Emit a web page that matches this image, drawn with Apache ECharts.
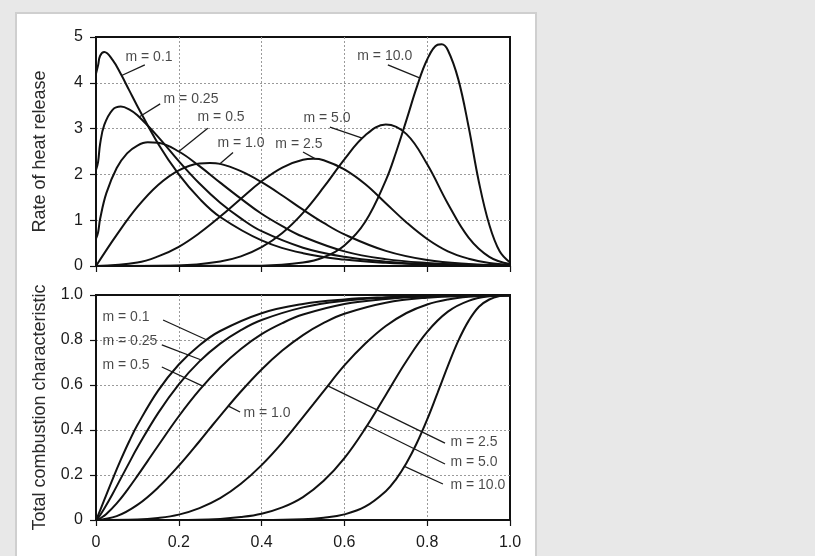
<!DOCTYPE html>
<html>
<head>
<meta charset="utf-8">
<script src="https://cdn.jsdelivr.net/npm/echarts@6/dist/echarts.min.js"></script>
<style>
html,body{margin:0;padding:0;background:#e8e8e8;}
#chart{width:815px;height:556px;}
</style>
</head>
<body>
<div id="chart"></div>
<script>
// ---- data ----
const xTicks = [0, 0.2, 0.4, 0.6, 0.8, 1.0];
const mLabels = ['m = 0.1', 'm = 0.25', 'm = 0.5', 'm = 1.0', 'm = 2.5', 'm = 5.0', 'm = 10.0'];

const m01X    = [0, 0.005, 0.01, 0.02, 0.04, 0.06, 0.08, 0.1, 0.15, 0.2, 0.25, 0.3, 0.4, 0.5, 0.6, 0.7, 0.8, 0.9, 1.0];
const m01Rate = [4.2, 4.38, 4.59, 4.67, 4.50, 4.19, 3.84, 3.49, 2.67, 2.00, 1.47, 1.07, 0.56, 0.28, 0.14, 0.07, 0.034, 0.016, 0.008];
const m01Burn = [0, 0.020, 0.043, 0.089, 0.181, 0.268, 0.349, 0.422, 0.575, 0.691, 0.777, 0.840, 0.919, 0.960, 0.980, 0.990, 0.996, 0.998, 0.999];

const m025X    = [0, 0.005, 0.01, 0.02, 0.04, 0.06, 0.08, 0.1, 0.15, 0.2, 0.25, 0.3, 0.35, 0.4, 0.5, 0.6, 0.7, 0.8, 0.9, 1.0];
const m025Rate = [2.1, 2.27, 2.67, 3.08, 3.41, 3.48, 3.42, 3.29, 2.82, 2.29, 1.80, 1.38, 1.04, 0.76, 0.40, 0.20, 0.095, 0.044, 0.020, 0.009];
const m025Burn = [0, 0.009, 0.022, 0.051, 0.116, 0.185, 0.254, 0.322, 0.475, 0.603, 0.705, 0.784, 0.844, 0.889, 0.945, 0.974, 0.988, 0.995, 0.998, 0.999];

const m05X    = [0, 0.005, 0.01, 0.025, 0.05, 0.075, 0.1, 0.125, 0.15, 0.2, 0.25, 0.3, 0.35, 0.4, 0.45, 0.5, 0.6, 0.7, 0.8, 0.9, 1.0];
const m05Rate = [0.6, 0.73, 1.03, 1.59, 2.14, 2.46, 2.63, 2.70, 2.69, 2.50, 2.18, 1.82, 1.47, 1.14, 0.87, 0.64, 0.32, 0.15, 0.067, 0.027, 0.010];
const m05Burn = [0, 0.002, 0.007, 0.027, 0.074, 0.132, 0.196, 0.263, 0.330, 0.461, 0.578, 0.678, 0.760, 0.826, 0.875, 0.913, 0.960, 0.982, 0.993, 0.997, 0.999];

const m1X    = [0, 0.05, 0.1, 0.15, 0.2, 0.25, 0.275, 0.3, 0.35, 0.4, 0.45, 0.5, 0.55, 0.6, 0.7, 0.8, 0.9, 1.0];
const m1Rate = [0, 0.68, 1.29, 1.77, 2.09, 2.24, 2.25, 2.23, 2.07, 1.83, 1.54, 1.23, 0.94, 0.69, 0.33, 0.13, 0.046, 0.014];
const m1Burn = [0, 0.017, 0.067, 0.144, 0.241, 0.350, 0.407, 0.463, 0.571, 0.669, 0.753, 0.822, 0.876, 0.917, 0.966, 0.988, 0.996, 0.999];

const m25X    = [0, 0.1, 0.15, 0.2, 0.25, 0.3, 0.35, 0.4, 0.45, 0.5, 0.525, 0.55, 0.6, 0.65, 0.7, 0.75, 0.8, 0.85, 0.9, 0.95, 1.0];
const m25Rate = [0, 0.076, 0.21, 0.42, 0.72, 1.08, 1.47, 1.85, 2.15, 2.32, 2.34, 2.31, 2.11, 1.79, 1.37, 0.95, 0.59, 0.32, 0.16, 0.067, 0.024];
const m25Burn = [0, 0.002, 0.009, 0.024, 0.053, 0.097, 0.161, 0.244, 0.344, 0.457, 0.515, 0.573, 0.687, 0.783, 0.862, 0.920, 0.958, 0.980, 0.992, 0.997, 0.999];

const m5X    = [0, 0.2, 0.3, 0.35, 0.4, 0.45, 0.5, 0.55, 0.6, 0.65, 0.7, 0.75, 0.8, 0.85, 0.9, 0.95, 1.0];
const m5Rate = [0, 0.013, 0.10, 0.21, 0.41, 0.72, 1.16, 1.72, 2.33, 2.85, 3.09, 2.88, 2.22, 1.36, 0.62, 0.20, 0.042];
const m5Burn = [0, 0.000, 0.005, 0.013, 0.028, 0.056, 0.102, 0.174, 0.275, 0.406, 0.556, 0.707, 0.836, 0.926, 0.974, 0.994, 0.999];

const m10X    = [0, 0.4, 0.5, 0.55, 0.6, 0.65, 0.7, 0.725, 0.75, 0.775, 0.8, 0.825, 0.835, 0.85, 0.875, 0.9, 0.925, 0.95, 0.975, 1.0];
const m10Rate = [0, 0.008, 0.074, 0.19, 0.45, 0.96, 1.87, 2.49, 3.19, 3.91, 4.51, 4.83, 4.84, 4.71, 4.08, 3.04, 1.83, 0.90, 0.32, 0.077];
const m10Burn = [0, 0.000, 0.003, 0.010, 0.025, 0.059, 0.128, 0.182, 0.253, 0.342, 0.447, 0.565, 0.613, 0.685, 0.796, 0.885, 0.948, 0.980, 0.995, 0.999];

// annotation placement (data coordinates): text anchor, leader start, leader end
const topNoteAt   = [[0.070, 4.56], [0.162, 3.65], [0.244, 3.25], [0.292, 2.69], [0.432, 2.66], [0.500, 3.23], [0.630, 4.59]];
const topLeadFrom = [[0.118, 4.39], [0.155, 3.54], [0.270, 3.01], [0.331, 2.48], [0.500, 2.49], [0.565, 3.03], [0.705, 4.39]];
const topLeadTo   = [[0.062, 4.16], [0.105, 3.26], [0.200, 2.50], [0.298, 2.22], [0.530, 2.34], [0.643, 2.79], [0.783, 4.10]];
const botNoteAt   = [[0.0145, 0.902], [0.0145, 0.796], [0.0145, 0.689], [0.355, 0.476], [0.855, 0.347], [0.855, 0.258], [0.855, 0.156]];
const botLeadFrom = [[0.162, 0.889], [0.159, 0.778], [0.159, 0.680], [0.348, 0.480], [0.843, 0.342], [0.843, 0.249], [0.838, 0.160]];
const botLeadTo   = [[0.268, 0.800], [0.256, 0.710], [0.258, 0.595], [0.320, 0.506], [0.560, 0.596], [0.655, 0.420], [0.745, 0.238]];

// ---- build ----
const FONT = '"Liberation Sans", Arial, Helvetica, sans-serif';
const curves = [
  [m01X, m01Rate, m01Burn], [m025X, m025Rate, m025Burn], [m05X, m05Rate, m05Burn],
  [m1X, m1Rate, m1Burn], [m25X, m25Rate, m25Burn], [m5X, m5Rate, m5Burn], [m10X, m10Rate, m10Burn]
];
const pairs = (xs, ys) => xs.map((x, i) => [x, ys[i]]);
const fmt1 = v => (Math.abs(v) < 1e-9 ? '0' : v.toFixed(1));

function xAxisCfg(grid, showLabels) {
  return {
    gridIndex: grid, type: 'value', min: 0, max: 1, interval: 0.2,
    axisLine: { show: true, onZero: false, lineStyle: { color: '#111', width: 2 } },
    axisTick: { show: true, length: 6, lineStyle: { color: '#111', width: 1.2 } },
    axisLabel: { show: showLabels, formatter: fmt1, fontSize: 16, color: '#1a1a1a', margin: 15, fontFamily: FONT },
    splitLine: { show: true, showMinLine: false, showMaxLine: false, lineStyle: { type: [2, 2], color: '#9a9a9a', width: 1 } }
  };
}
function yAxisCfg(grid, max, interval, name, formatter) {
  return {
    gridIndex: grid, type: 'value', min: 0, max: max, interval: interval,
    name: name, nameLocation: 'middle', nameGap: 47,
    nameTextStyle: { fontSize: 18, color: '#2a2a2a', fontFamily: FONT },
    axisLine: { show: true, onZero: false, lineStyle: { color: '#111', width: 2 } },
    axisTick: { show: true, length: 6, lineStyle: { color: '#111', width: 1.2 } },
    axisLabel: { formatter: formatter, fontSize: 16, color: '#1a1a1a', margin: 13, fontFamily: FONT },
    splitLine: { show: true, showMinLine: false, showMaxLine: false, lineStyle: { type: [2, 2], color: '#9a9a9a', width: 1 } }
  };
}

const series = [];
curves.forEach((c, i) => {
  [[0, c[1]], [1, c[2]]].forEach(([g, ys]) => {
    series.push({
      type: 'line', xAxisIndex: g, yAxisIndex: g, name: mLabels[i] + (g ? ' burn' : ' rate'),
      data: pairs(c[0], ys), smooth: 0.4, showSymbol: false, symbol: 'none',
      lineStyle: { color: '#111', width: 2 }, z: 3, silent: true
    });
  });
});
[[0, topNoteAt, topLeadFrom, topLeadTo], [1, botNoteAt, botLeadFrom, botLeadTo]].forEach(([g, at, from, to]) => {
  series.push({
    type: 'lines', coordinateSystem: 'cartesian2d', xAxisIndex: g, yAxisIndex: g, polyline: false,
    data: from.map((f, i) => ({ coords: [f, to[i]] })),
    lineStyle: { color: '#1a1a1a', width: 1.3, opacity: 1 }, symbol: ['none', 'none'], z: 4, silent: true
  });
  series.push({
    type: 'scatter', xAxisIndex: g, yAxisIndex: g, symbolSize: 1,
    itemStyle: { color: 'rgba(0,0,0,0)' },
    data: at.map((p, i) => ({ value: p, name: mLabels[i] })),
    label: { show: true, position: 'right', distance: 0, formatter: '{b}', fontSize: 14, color: '#1a1a1a', fontFamily: FONT },
    z: 5, silent: true
  });
});

const option = {
  backgroundColor: '#e8e8e8',
  animation: false,
  textStyle: { fontFamily: FONT },
  graphic: [{
    type: 'rect', z: -100, silent: true,
    shape: { x: 16, y: 13, width: 520, height: 580 },
    style: { fill: '#ffffff', stroke: '#cfcfcf', lineWidth: 2 }
  }],
  grid: [
    { left: 96, top: 37, width: 414, height: 229, show: true, borderColor: '#111', borderWidth: 2, backgroundColor: 'rgba(0,0,0,0)' },
    { left: 96, top: 295, width: 414, height: 225, show: true, borderColor: '#111', borderWidth: 2, backgroundColor: 'rgba(0,0,0,0)' }
  ],
  xAxis: [xAxisCfg(0, false), xAxisCfg(1, true)],
  yAxis: [
    yAxisCfg(0, 5, 1, 'Rate of heat release', v => String(Math.round(v))),
    yAxisCfg(1, 1, 0.2, 'Total combustion characteristic', fmt1)
  ],
  series: series
};

const chart = echarts.init(document.getElementById('chart'), null, { renderer: 'canvas' });
chart.setOption(option);
</script>
</body>
</html>
